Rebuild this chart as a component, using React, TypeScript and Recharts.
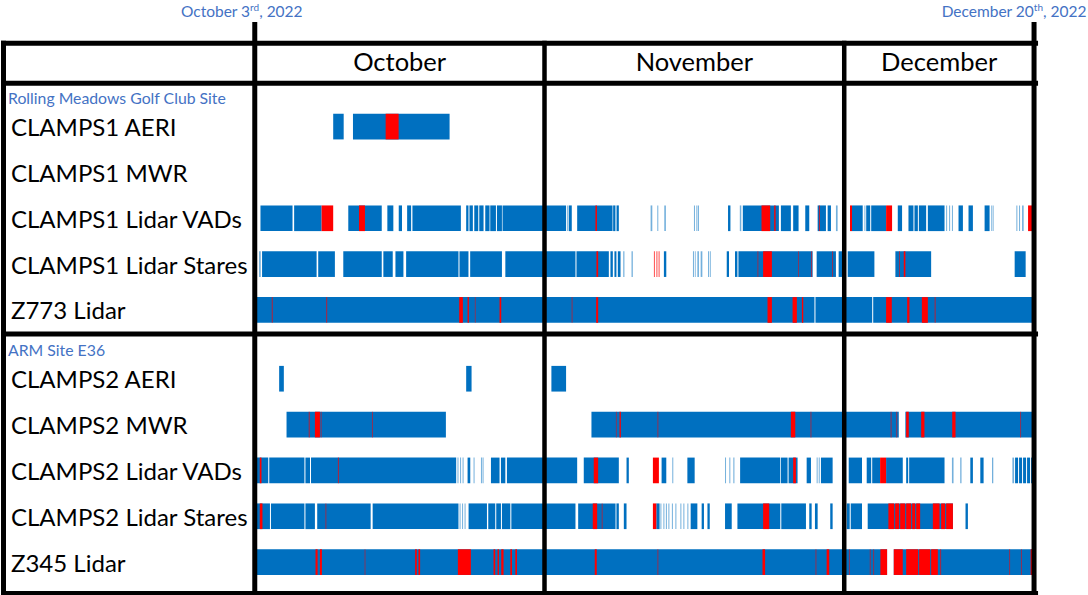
import React from 'react';
import { ComposedChart, XAxis, YAxis, ReferenceArea, ReferenceLine, Scatter } from 'recharts';

// ---------- data (days since October 3rd, 2022) ----------
type Seg = [number, number];

const monthNames = ['October', 'November', 'December'];
const monthStart = [0, 29, 59];
const monthEnd = [29, 59, 78];
const dateMarkers = [0, 78];
const dateMain = ['October 3', 'December 20'];
const dateSup = ['rd', 'th'];
const dateYear = ', 2022';

const groupTitles = ['Rolling Meadows Golf Club Site', 'ARM Site E36'];
const group1Rows = ['CLAMPS1 AERI', 'CLAMPS1 MWR', 'CLAMPS1 Lidar VADs', 'CLAMPS1 Lidar Stares', 'Z773 Lidar'];
const group2Rows = ['CLAMPS2 AERI', 'CLAMPS2 MWR', 'CLAMPS2 Lidar VADs', 'CLAMPS2 Lidar Stares', 'Z345 Lidar'];

const c1AeriGood: Seg[] = [[7.85, 8.9], [9.83, 19.5]];
const c1AeriFlag: Seg[] = [[13.1, 14.4]];

const c1MwrGood: Seg[] = [];
const c1MwrFlag: Seg[] = [];

const c1VadGood: Seg[] = [
  [0.57, 3.78], [3.94, 6.69], [9.36, 12.71], [13.27, 13.87], [14.41, 14.74], [15.25, 15.65], [15.78, 20.63],
  [21.16, 21.39], [21.49, 21.83], [21.97, 22.37], [22.47, 22.9], [23.07, 23.5], [23.57, 24.14], [24.24, 24.74],
  [24.8, 31.16], [31.27, 31.37], [31.43, 31.73], [32.27, 35.81], [35.87, 36.1], [36.21, 36.44],
  [39.62, 39.79], [40.29, 40.39], [40.99, 41.15], [43.96, 44.06], [44.2, 44.3], [44.36, 44.46], [47.37, 47.61],
  [48.55, 48.7], [48.85, 52.46], [52.66, 53.66], [53.89, 54.43], [55.1, 55.5], [56.34, 57.17], [57.34, 57.67],
  [58.17, 58.34], [59.78, 60.85], [61.02, 61.12], [61.2, 61.6], [61.7, 63.19], [64.36, 64.79], [65.43, 65.93],
  [66.03, 66.37], [66.47, 67.2], [67.37, 69.04], [69.2, 69.3], [69.5, 69.6], [69.78, 69.88], [70.44, 70.88],
  [71.44, 71.88], [73.05, 73.55], [73.72, 73.82], [73.88, 73.95], [76.23, 76.33], [76.5, 76.6], [76.8, 76.96],
];
const c1VadFlag: Seg[] = [
  [6.69, 7.85], [10.43, 11.03], [34.1, 34.25], [50.72, 51.59], [51.99, 52.13], [56.47, 56.57], [59.58, 59.78],
  [63.19, 63.79], [77.4, 78],
];

const c1StareGood: Seg[] = [
  [0.43, 0.6], [0.73, 6.19], [6.35, 8.02], [8.86, 12.71], [12.87, 13.81], [14.08, 14.88], [15.15, 20.39],
  [20.49, 21.39], [21.56, 24.74], [25.08, 32.1], [32.2, 35.44], [35.6, 35.84], [36.0, 36.2], [36.34, 36.61],
  [36.88, 37.0], [37.71, 37.84], [40.95, 41.19], [43.86, 43.96], [44.05, 44.13], [44.3, 44.46],
  [44.63, 44.8], [45.37, 45.47], [45.55, 45.64], [47.24, 47.47], [48.07, 48.31], [48.41, 55.84], [56.24, 58.17],
  [58.44, 58.78], [59.35, 62.02], [64.12, 67.7], [76.06, 77.16],
];
const c1StareFlag: Seg[] = [
  [34.2, 34.37], [39.95, 40.05], [40.2, 40.3], [40.42, 40.52], [50.32, 50.4], [50.88, 51.76], [54.4, 54.47],
  [55.7, 55.78], [57.8, 57.88], [64.5, 64.58], [64.96, 65.12],
];

const z773Good: Seg[] = [[0.17, 56.02], [56.12, 61.8], [61.9, 78]];
const z773Flag: Seg[] = [
  [1.7, 1.8], [7.15, 7.25], [20.46, 20.83], [21.3, 21.43], [22.03, 22.1], [24.5, 24.67], [31.72, 31.8],
  [34.17, 34.37], [51.32, 51.76], [53.83, 54.26], [54.76, 54.9], [63.19, 63.76], [65.3, 65.53], [66.77, 67.37],
  [68.05, 68.15],
];

const c2AeriGood: Seg[] = [[2.44, 2.91], [21.16, 21.7], [29.69, 31.16]];
const c2AeriFlag: Seg[] = [];

const c2MwrGood: Seg[] = [[3.18, 19.13], [33.7, 64.46], [65.12, 78]];
const c2MwrFlag: Seg[] = [
  [5.4, 5.5], [6.02, 6.52], [6.6, 6.68], [11.73, 11.81], [36.15, 36.22], [36.51, 36.64], [40.31, 40.39],
  [53.66, 54.1], [55.63, 55.71], [63.65, 63.73], [64.22, 64.3], [65.2, 65.46], [66.7, 67.03], [69.81, 70.14],
  [76.62, 76.7],
];

const c2VadGood: Seg[] = [
  [0.17, 1.35], [1.45, 4.97], [5.07, 5.53], [5.63, 20.16], [20.29, 20.39], [20.55, 20.65], [20.8, 20.9],
  [21.3, 21.57], [21.9, 22.0], [22.64, 22.74], [22.8, 22.9], [23.64, 24.5], [24.64, 25.08], [25.24, 32.27],
  [32.93, 36.44], [37.21, 37.44], [40.72, 41.19], [41.79, 41.89], [43.3, 44.03], [47.07, 47.17], [47.5, 47.6],
  [47.9, 48.01], [48.58, 52.59], [52.66, 53.33], [53.43, 54.33], [55.24, 55.67], [56.24, 56.34], [56.45, 56.55],
  [56.67, 57.84], [59.45, 60.78], [61.25, 61.7], [61.8, 62.59], [63.19, 64.86], [65.2, 65.4], [65.5, 69.04],
  [69.78, 69.94], [70.61, 70.74], [71.62, 71.88], [72.62, 72.95], [73.79, 73.92], [75.83, 76.0], [76.1, 76.4],
  [76.5, 76.8], [76.9, 77.2], [77.3, 77.6], [77.7, 78],
];
const c2VadFlag: Seg[] = [
  [0.5, 0.67], [8.32, 8.42], [33.93, 34.37], [39.85, 40.45], [53.89, 54.16], [62.59, 63.19],
];

const c2StareGood: Seg[] = [
  [0.17, 1.52], [1.62, 4.97], [5.07, 6.02], [6.25, 11.6], [11.8, 20.39], [20.5, 20.6], [20.75, 20.85],
  [21.0, 21.1], [21.4, 23.24], [23.37, 24.07], [24.17, 24.64], [24.74, 25.58], [25.68, 32.1], [32.37, 36.11],
  [36.2, 36.44], [36.94, 37.21], [40.19, 40.52], [40.6, 40.7], [40.9, 41.0], [41.15, 41.25], [41.4, 41.5],
  [41.75, 41.85], [42.1, 42.2], [42.6, 42.7], [42.9, 43.0], [43.3, 43.4], [43.63, 44.3], [44.73, 44.96],
  [45.31, 45.54], [47.07, 47.74], [48.31, 52.6], [52.7, 55.17], [55.5, 55.74], [56.07, 56.34], [57.6, 57.84],
  [59.25, 59.55], [59.65, 60.78], [61.35, 69.88], [71.14, 71.38],
];
const c2StareFlag: Seg[] = [
  [0.5, 0.77], [7.08, 7.16], [33.83, 34.27], [34.73, 34.81], [39.85, 40.19], [50.88, 51.49], [63.42, 64.0],
  [64.1, 64.5], [64.6, 65.1], [65.2, 65.7], [65.8, 66.1], [66.2, 66.6], [67.87, 68.54], [68.7, 69.1],
  [69.2, 69.88],
];

const z345Good: Seg[] = [[0.17, 63.29], [63.96, 78]];
const z345Flag: Seg[] = [
  [6.08, 6.29], [6.52, 6.72], [11.0, 11.07], [16.05, 16.22], [16.38, 16.55], [20.33, 21.63], [23.9, 24.07],
  [24.3, 24.44], [24.67, 24.9], [25.58, 25.75], [26.08, 26.25], [34.03, 34.23], [40.31, 40.39], [50.82, 51.08],
  [56.13, 56.21], [57.24, 57.5], [59.47, 59.55], [61.56, 61.64], [61.91, 61.99], [62.62, 63.29], [63.96, 64.86],
  [65.2, 66.4], [66.5, 67.6], [67.7, 68.37], [68.6, 68.7], [75.52, 75.6], [76.69, 76.77], [77.66, 78],
];

const group1Good = [c1AeriGood, c1MwrGood, c1VadGood, c1StareGood, z773Good];
const group1Flag = [c1AeriFlag, c1MwrFlag, c1VadFlag, c1StareFlag, z773Flag];
const group2Good = [c2AeriGood, c2MwrGood, c2VadGood, c2StareGood, z345Good];
const group2Flag = [c2AeriFlag, c2MwrFlag, c2VadFlag, c2StareFlag, z345Flag];

// ---------- layout ----------
const W = 1088;
const H = 595;
const X0_PX = 254;
const DAY_PX = 10.0;
const ROW0_PX = 125;
const ROW_PX = 46;
const GROUP2_OFFSET = 5.5;
const TITLE_OFFSET = -0.64;
const BAR_HALF = 0.28;
const xOf = (px: number) => (px - X0_PX) / DAY_PX;
const yOf = (py: number) => (py - ROW0_PX) / ROW_PX;
const X_DOMAIN: [number, number] = [xOf(0), xOf(W)];
const Y_DOMAIN: [number, number] = [yOf(0), yOf(H)];

const BLUE = '#0070C0';
const RED = '#FF0000';
const TITLE_BLUE = '#4472C4';
const FONT = 'Lato, "Noto Sans", sans-serif';

type Row = { name: string; y: number; good: Seg[]; flag: Seg[] };
const rows: Row[] = [
  ...group1Rows.map((name, i) => ({ name, y: i, good: group1Good[i], flag: group1Flag[i] })),
  ...group2Rows.map((name, i) => ({ name, y: GROUP2_OFFSET + i, good: group2Good[i], flag: group2Flag[i] })),
];
const titleTicks = [TITLE_OFFSET, GROUP2_OFFSET + TITLE_OFFSET];
const yTicks = [...titleTicks, ...rows.map((r) => r.y)];
const monthMid = monthStart.map((s, i) => (s + monthEnd[i]) / 2);
const anchorData = rows.map((r) => ({ x: 0, y: r.y }));

const YTick = (props: any) => {
  const v = props.payload?.value;
  const ti = titleTicks.findIndex((t) => Math.abs(t - v) < 1e-6);
  if (ti >= 0) {
    return (
      <text x={8} y={props.y} dominantBaseline="central" fontFamily={FONT} fontSize={15.8} fill={TITLE_BLUE}>
        {groupTitles[ti]}
      </text>
    );
  }
  const r = rows.find((rr) => Math.abs(rr.y - v) < 1e-6);
  return (
    <text x={11} y={props.y} dominantBaseline="central" fontFamily={FONT} fontSize={24} fill="#000">
      {r ? r.name : ''}
    </text>
  );
};

const MonthTick = (props: any) => {
  const i = monthMid.findIndex((m) => Math.abs(m - props.payload?.value) < 1e-6);
  return (
    <text x={props.x} y={61} textAnchor="middle" dominantBaseline="central" fontFamily={FONT} fontSize={25.5} fill="#000">
      {monthNames[i]}
    </text>
  );
};

const DateTick = (props: any) => {
  const i = dateMarkers.findIndex((m) => Math.abs(m - props.payload?.value) < 1e-6);
  const dx = i === 0 ? -13 : -20;
  return (
    <text x={props.x + dx} y={17} textAnchor="middle" fontFamily={FONT} fontSize={15.5} fill={TITLE_BLUE}>
      <tspan>{dateMain[i]}</tspan>
      <tspan dy={-6} fontSize={10}>{dateSup[i]}</tspan>
      <tspan dy={6}>{dateYear}</tspan>
    </text>
  );
};

const frameH = [41.5, 81.5, 333, 593.5];
const frameRight = 1038;

export default function App() {
  return (
    <div style={{ position: 'absolute', left: 0, top: 0, width: W, height: H, background: '#fff' }}>
      <ComposedChart width={W} height={H} data={anchorData} margin={{ top: 0, right: 0, bottom: 0, left: 0 }}>
        <XAxis xAxisId="main" dataKey="x" type="number" domain={X_DOMAIN} allowDataOverflow hide />
        <XAxis
          xAxisId="months"
          dataKey="x"
          type="number"
          orientation="top"
          height={1}
          domain={X_DOMAIN}
          allowDataOverflow
          ticks={monthMid}
          interval={0}
          axisLine={false}
          tickLine={false}
          tick={<MonthTick />}
        />
        <XAxis
          xAxisId="dates"
          dataKey="x"
          type="number"
          orientation="top"
          height={1}
          domain={X_DOMAIN}
          allowDataOverflow
          ticks={dateMarkers}
          interval={0}
          axisLine={false}
          tickLine={false}
          tick={<DateTick />}
        />
        <YAxis
          type="number"
          dataKey="y"
          width={1}
          domain={Y_DOMAIN}
          allowDataOverflow
          reversed
          ticks={yTicks}
          interval={0}
          axisLine={false}
          tickLine={false}
          tick={<YTick />}
        />
        <Scatter xAxisId="main" dataKey="y" fill="none" stroke="none" isAnimationActive={false} />
        {rows.flatMap((r, ri) =>
          r.good.map((s, si) => (
            <ReferenceArea
              key={`g-${ri}-${si}`}
              xAxisId="main"
              x1={s[0]}
              x2={s[1]}
              y1={r.y - BAR_HALF}
              y2={r.y + BAR_HALF}
              fill={BLUE}
              fillOpacity={s[1] - s[0] < 0.2 ? 0.55 : 1}
              stroke="none"
              ifOverflow="visible"
            />
          ))
        )}
        {rows.flatMap((r, ri) =>
          r.flag.map((s, si) => (
            <ReferenceArea
              key={`f-${ri}-${si}`}
              xAxisId="main"
              x1={s[0]}
              x2={s[1]}
              y1={r.y - BAR_HALF}
              y2={r.y + BAR_HALF}
              fill={RED}
              fillOpacity={s[1] - s[0] < 0.12 ? 0.7 : 1}
              stroke="none"
              ifOverflow="visible"
            />
          ))
        )}
        {frameH.map((py, i) => (
          <ReferenceLine
            key={`h-${i}`}
            xAxisId="main"
            segment={[{ x: xOf(0), y: yOf(py) }, { x: xOf(frameRight), y: yOf(py) }]}
            stroke="#000"
            strokeWidth={5}
            ifOverflow="visible"
          />
        ))}
        <ReferenceLine
          xAxisId="main"
          segment={[{ x: xOf(2.5), y: yOf(39) }, { x: xOf(2.5), y: yOf(H) }]}
          stroke="#000"
          strokeWidth={5}
          ifOverflow="visible"
        />
        {dateMarkers.map((d, i) => (
          <ReferenceLine
            key={`d-${i}`}
            xAxisId="main"
            segment={[{ x: d, y: yOf(20) }, { x: d, y: yOf(H) }]}
            stroke="#000"
            strokeWidth={5}
            ifOverflow="visible"
          />
        ))}
        {monthStart.slice(1).map((d, i) => (
          <ReferenceLine
            key={`m-${i}`}
            xAxisId="main"
            segment={[{ x: d, y: yOf(39) }, { x: d, y: yOf(H) }]}
            stroke="#000"
            strokeWidth={4.5}
            ifOverflow="visible"
          />
        ))}
      </ComposedChart>
    </div>
  );
}
